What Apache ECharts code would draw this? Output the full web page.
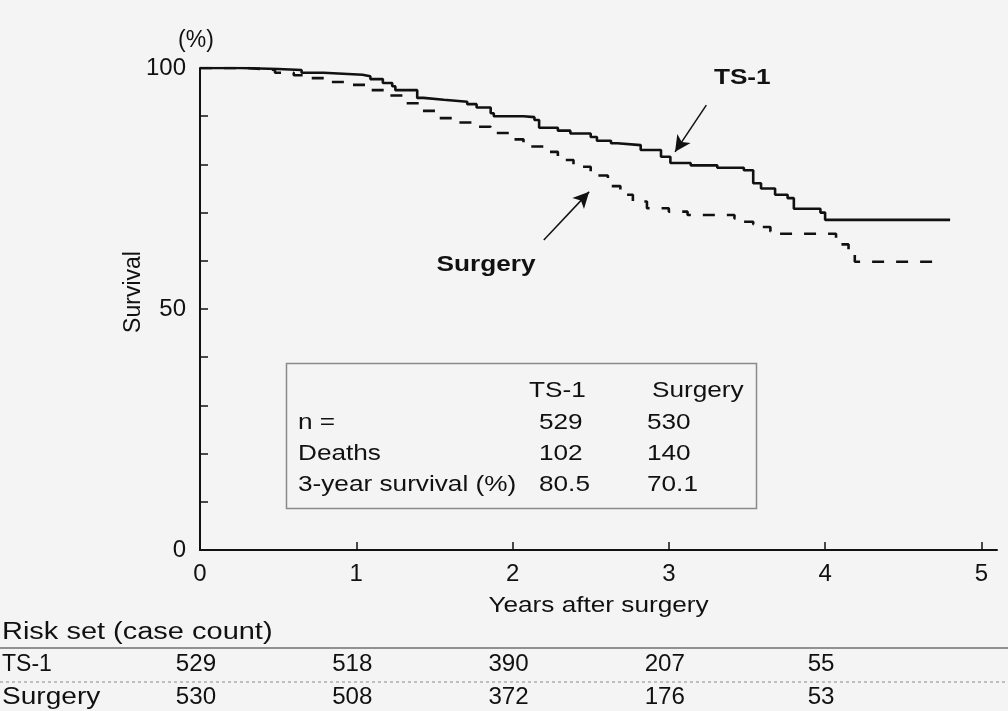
<!DOCTYPE html>
<html><head><meta charset="utf-8">
<script src="https://cdn.jsdelivr.net/npm/echarts@6/dist/echarts.min.js"></script>
<style>html,body{margin:0;padding:0;background:#f4f4f4}#c{width:1008px;height:711px}</style>
</head><body><div id="c"></div>
<script>
// ---- data ----
const tsTime = [0, 0.26, 0.5, 0.65, 0.79, 1.04, 1.09, 1.17, 1.23, 1.25, 1.39, 1.43, 1.56, 1.71, 1.77, 1.86, 1.88, 2.07, 2.14, 2.17, 2.29, 2.37, 2.5, 2.54, 2.63, 2.67, 2.82, 2.95, 3.01, 3.14, 3.31, 3.48, 3.54, 3.59, 3.68, 3.76, 3.8, 3.97, 4.0, 4.8];
const tsSurv = [100, 99.8, 99.6, 99.0, 98.6, 98.3, 97.7, 96.9, 96.2, 95.4, 93.8, 93.4, 93.0, 92.5, 91.8, 90.6, 90.0, 89.8, 89.2, 87.6, 87.0, 86.4, 85.7, 84.9, 84.4, 84.0, 83.0, 81.6, 80.3, 79.8, 79.3, 78.8, 76.1, 75.0, 73.7, 73.0, 70.8, 70.0, 68.5, 68.5];
const sgTime = [0, 0.3, 0.48, 0.6, 0.7, 0.83, 0.96, 1.07, 1.2, 1.3, 1.41, 1.52, 1.65, 1.75, 1.86, 1.99, 2.07, 2.2, 2.29, 2.39, 2.5, 2.61, 2.69, 2.77, 2.86, 3.0, 3.12, 3.42, 3.47, 3.54, 3.59, 3.65, 3.7, 4.07, 4.15, 4.19, 4.73];
const sgSurv = [100, 99.6, 99.0, 98.5, 97.9, 97.1, 96.5, 95.4, 94.3, 92.7, 91.1, 89.6, 88.7, 87.8, 86.5, 85.2, 83.7, 82.6, 80.9, 79.5, 77.7, 75.5, 73.7, 72.3, 70.9, 70.2, 69.5, 68.8, 68.1, 67.6, 67.0, 66.1, 65.6, 63.4, 62.2, 59.8, 59.8];
const xTicks = [0, 1, 2, 3, 4, 5];
const yLabelVals = [0, 50, 100];
const riskYears = [0, 1, 2, 3, 4];
const riskTS = [529, 518, 390, 207, 55];
const riskSurg = [530, 508, 372, 176, 53];
const summaryCols = ['TS-1', 'Surgery'];
const summaryRows = ['n =', 'Deaths', '3-year survival (%)'];
const summaryTS = ['529', '102', '80.5'];
const summarySurg = ['530', '140', '70.1'];
const groupNames = ['TS-1', 'Surgery'];

// ---- styling ----
const FONT = '"Liberation Sans", Arial, Helvetica, sans-serif';
const TXT = '#111';
const SX = 1.19;
const chart = echarts.init(document.getElementById('c'), null, {renderer: 'canvas'});

const arrowLine = {
  symbol: ['none', 'arrow'], symbolSize: [12, 16], silent: true,
  label: {show: false},
  lineStyle: {color: '#111', width: 1.5, type: 'solid'}
};

chart.setOption({
  backgroundColor: '#f4f4f4',
  animation: false,
  grid: {left: 200, right: 11, top: 68, bottom: 161},
  xAxis: {
    type: 'value', min: 0, max: 5.1, interval: 1,
    axisLine: {lineStyle: {color: '#111', width: 2}},
    axisTick: {inside: true, length: 8, customValues: xTicks, lineStyle: {color: '#111', width: 1.5}},
    axisLabel: {customValues: xTicks, margin: 12, fontSize: 24, color: TXT, fontFamily: FONT},
    splitLine: {show: false}
  },
  yAxis: {
    type: 'value', min: 0, max: 100, interval: 10,
    axisLine: {show: true, lineStyle: {color: '#111', width: 2}},
    axisTick: {show: true, inside: true, length: 8, lineStyle: {color: '#111', width: 1.5}},
    axisLabel: {formatter: v => yLabelVals.includes(v) ? String(v) : '', margin: 14, fontSize: 24, color: TXT, fontFamily: FONT},
    splitLine: {show: false},
    name: '(%)', nameLocation: 'end', nameGap: 16,
    nameTextStyle: {fontSize: 23, color: TXT, fontFamily: FONT, align: 'center', padding: [0, 0, 0, -8]}
  },
  series: [
    {
      name: groupNames[0], type: 'line', step: 'end', symbol: 'none',
      data: tsTime.map((t, i) => [t, tsSurv[i]]),
      lineStyle: {color: '#111', width: 2.6},
      markLine: Object.assign({data: [[{coord: [3.24, 92.3]}, {coord: [3.04, 82.6]}]]}, arrowLine)
    },
    {
      name: groupNames[1], type: 'line', step: 'end', symbol: 'none',
      data: sgTime.map((t, i) => [t, sgSurv[i]]),
      lineStyle: {color: '#111', width: 2.6, type: [12, 12]},
      markLine: Object.assign({data: [[{coord: [2.2, 64.3]}, {coord: [2.49, 74.3]}]]}, arrowLine)
    }
  ]
});

// ---- texts & table (positioned through the chart's own scales) ----
const px = (x, y) => chart.convertToPixel({gridIndex: 0}, [x, y]);
const T = (text, x, y, opt) => Object.assign({
  type: 'text', x: x, y: y, scaleX: SX, silent: true,
  style: Object.assign({text: text, fill: TXT, font: '22px ' + FONT, textAlign: 'left', textVerticalAlign: 'middle'}, (opt && opt.style) || {})
}, opt && opt.el || {});

const g = [];
// axis titles
const mid = px(2.55, 0);
g.push(T('Years after surgery', mid[0], 606, {style: {textAlign: 'center', font: '22px ' + FONT}}));
g.push({type: 'text', x: 133, y: 292, rotation: Math.PI / 2, scaleY: 1.05, silent: true,
  style: {text: 'Survival', fill: TXT, font: '23px ' + FONT, textAlign: 'center', textVerticalAlign: 'middle'}});
// curve labels
const pTS = px(3.47, 97.9), pSG = px(1.83, 59.1);
g.push(T(groupNames[0], pTS[0], pTS[1], {style: {textAlign: 'center', font: 'bold 22px ' + FONT, fill: '#111'}}));
g.push(T(groupNames[1], pSG[0], pSG[1], {style: {textAlign: 'center', font: 'bold 22px ' + FONT, fill: '#111'}}));
// summary box
g.push({type: 'rect', silent: true, shape: {x: 286.5, y: 363.5, width: 470, height: 145},
  style: {fill: 'none', stroke: '#8a8a8a', lineWidth: 1.5}});
const rowY = [391, 423, 454, 485];
const colX = [529, 652];
const numX = [539, 647];
summaryCols.forEach((c, j) => g.push(T(c, colX[j], rowY[0])));
summaryRows.forEach((r, i) => {
  g.push(T(r, 298, rowY[i + 1]));
  g.push(T(summaryTS[i], numX[0], rowY[i + 1]));
  g.push(T(summarySurg[i], numX[1], rowY[i + 1]));
});
// risk table
g.push(T('Risk set (case count)', 2, 633, {style: {font: '23px ' + FONT}, el: {scaleX: 1.26}}));
g.push({type: 'line', silent: true, shape: {x1: 0, y1: 648, x2: 1008, y2: 648}, style: {stroke: '#707070', lineWidth: 1.5}});
g.push({type: 'line', silent: true, shape: {x1: 0, y1: 682, x2: 1008, y2: 682}, style: {stroke: '#8a8a8a', lineWidth: 1.2, lineDash: [3, 3]}});
g.push(T(groupNames[0], 2, 665, {style: {font: '23px ' + FONT}, el: {scaleX: 1.0}}));
g.push(T(groupNames[1], 2, 698, {style: {font: '23px ' + FONT}, el: {scaleX: 1.22}}));
riskYears.forEach((yr, i) => {
  const x = px(yr, 0)[0] - 4;
  g.push(T(String(riskTS[i]), x, 665, {style: {textAlign: 'center', font: '23px ' + FONT}, el: {scaleX: 1.05}}));
  g.push(T(String(riskSurg[i]), x, 698, {style: {textAlign: 'center', font: '23px ' + FONT}, el: {scaleX: 1.05}}));
});
chart.setOption({graphic: g});
</script>
</body></html>
